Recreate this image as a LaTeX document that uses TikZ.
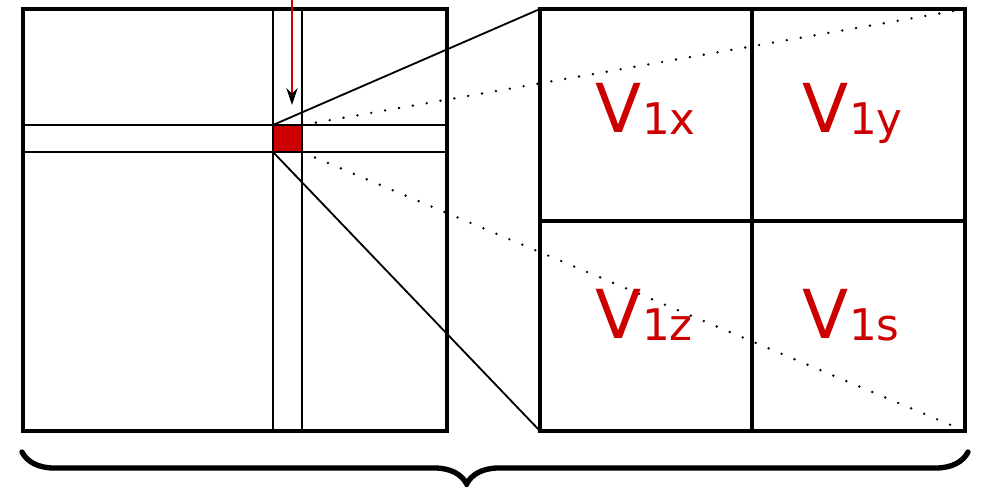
\documentclass[tikz,border=0pt]{standalone}
\usepackage{fontspec}
\newfontfamily\labelfont{DejaVu Sans}
\usetikzlibrary{arrows.meta,decorations.pathreplacing}
\definecolor{cellred}{HTML}{CC0000}
\newcommand{\vlabel}[1]{{\fontsize{48}{48}\selectfont V}\raisebox{-2pt}{\fontsize{31}{31}\selectfont #1}}
\tikzset{
  frame/.style={line width=2.8pt},
  dots/.style={line width=1.9pt, line cap=round, dash pattern=on 0pt off 10pt},
  vlab/.style={font=\labelfont, text=cellred, anchor=base west, inner sep=0pt}
}
\begin{document}
\begin{tikzpicture}[x=0.025cm, y=-0.025cm, line width=1.3pt]
  \useasboundingbox (0,0) rectangle (985,486);
  % grid and the picked cell
  \coordinate (ga) at (23,9);
  \coordinate (gb) at (447,431);
  \coordinate (c1) at (273,125);
  \coordinate (c2) at (302,125);
  \coordinate (c3) at (273,152);
  \coordinate (c4) at (302,152);
  \fill[cellred] (c1) rectangle (c4);
  \draw (273,9) -- (273,431);
  \draw (302,9) -- (302,431);
  \draw (23,125) -- (447,125);
  \draw (23,152) -- (447,152);
  \draw[frame] (ga) rectangle (gb);
  % zoomed cell
  \coordinate (za) at (540,9);
  \coordinate (zb) at (965,9);
  \coordinate (zc) at (540,431);
  \coordinate (zd) at (965,431);
  \draw[frame] (za) rectangle (zd);
  \draw[frame] (752,9) -- (752,431);
  \draw[frame] (540,221) -- (965,221);
  \draw (c1) -- (za);
  \draw (c3) -- (zc);
  \draw[dots] (c2) -- (zb);
  \draw[dots] (c4) -- (zd);
  \node[vlab] (vx) at (595,132) {\vlabel{1x}};
  \node[vlab] (vy) at (802,132) {\vlabel{1y}};
  \node[vlab] (vz) at (595,338) {\vlabel{1z}};
  \node[vlab] (vs) at (802,338) {\vlabel{1s}};
  % arrow into the cell
  \coordinate (in) at (292,0);
  \coordinate (tip) at (292,105);
  \draw[cellred, -{Stealth[black, length=12pt, width=8pt]}] (in) -- (tip);
  % brace below
  \coordinate (bl) at (22,452);
  \coordinate (br) at (968,452);
  \draw[line width=3.8pt, line cap=round, decorate,
        decoration={brace, mirror, amplitude=0.8cm, aspect=0.47}] (bl) -- (br);
\end{tikzpicture}
\end{document}
